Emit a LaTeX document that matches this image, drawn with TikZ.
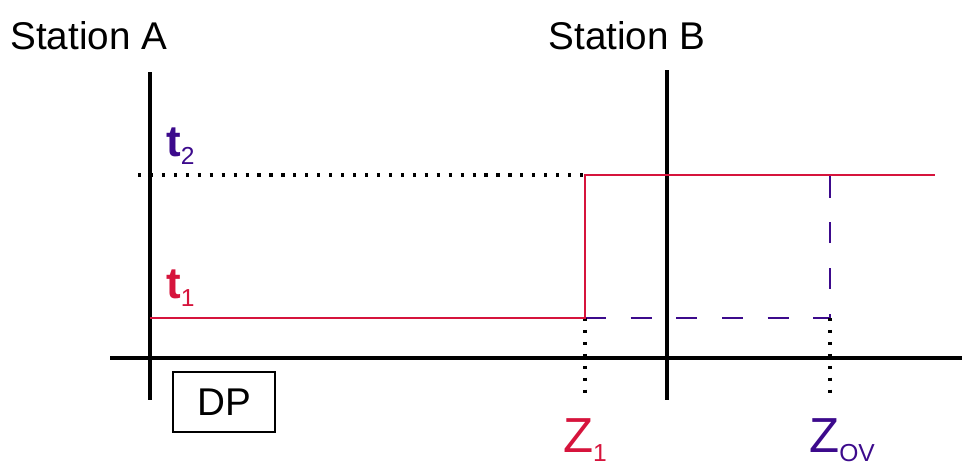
\documentclass[tikz,border=0pt]{standalone}
\usepackage{fontspec}
\setmainfont{Liberation Sans}
\usepackage{xcolor}
\usetikzlibrary{positioning,calc}

\definecolor{zonered}{RGB}{214,20,60}
\definecolor{zoneblue}{RGB}{60,10,140}
\newcommand{\lowidx}[1]{\raisebox{-0.35ex}{\mdseries\fontsize{14}{14}\selectfont #1}}

\begin{document}
\begin{tikzpicture}[
    x=0.02cm, y=-0.02cm,
    label/.style={inner sep=0pt, font=\fontsize{22}{24}\selectfont},
    timelabel/.style={inner sep=0pt, font=\fontsize{25}{26}\selectfont\bfseries},
    zonelabel/.style={inner sep=0pt, font=\fontsize{28}{29}\selectfont},
    axisline/.style={line width=2pt, black},
    stepline/.style={line width=1.6pt, zonered},
    reachline/.style={line width=1.6pt, zoneblue, dash pattern=on 12pt off 14pt},
    guideline/.style={line width=1.8pt, black, dash pattern=on 1.8pt off 5pt}
]
    \useasboundingbox (0,0) rectangle (964,464);

    % stations
    \node[label, anchor=west] (stA) at (10,36) {Station A};
    \node[label] (stB) at (627,36) {Station B};
    \coordinate (aTop) at (150,72);
    \coordinate (aBot) at (150,400);
    \coordinate (bTop) at (667,70);
    \coordinate (bBot) at (667,400);
    \draw[axisline] (aTop) -- (aBot);
    \draw[axisline] (bTop) -- (bBot);

    % distance axis
    \coordinate (axL) at (110,358);
    \coordinate (axR) at (962,358);
    \draw[axisline] (axL) -- (axR);

    % time levels
    \coordinate (t2L) at (138,175);
    \coordinate (t1L) at (150,318);
    \coordinate (z1Lo) at (585,318);
    \coordinate (z1Hi) at (585,175);
    \coordinate (endHi) at (935,175);
    \coordinate (zovLo) at (830,318);
    \coordinate (zovHi) at (830,175);
    \coordinate (z1Foot) at (585,398);
    \coordinate (zovFoot) at (830,398);

    \draw[guideline] (t2L) -- (z1Hi);
    \draw[reachline] (z1Lo) -- (zovLo) -- (zovHi);
    \draw[guideline] (z1Lo) -- (z1Foot);
    \draw[guideline] (zovLo) -- (zovFoot);
    \draw[stepline] (t1L) -- (z1Lo) -- (z1Hi) -- (endHi);

    \node[timelabel, anchor=west, text=zoneblue] (t2) at (166,146) {t\lowidx{2}};
    \node[timelabel, anchor=west, text=zonered] (t1) at (166,288) {t\lowidx{1}};

    % zone reaches
    \node[zonelabel, text=zonered] (z1) at (585,440) {Z\lowidx{1}};
    \node[zonelabel, text=zoneblue] (zov) at (842,440) {Z\lowidx{OV}};

    % relay
    \node[draw, line width=1.3pt, minimum width=102*0.02cm, minimum height=60*0.02cm,
          font=\fontsize{22}{24}\selectfont] (dp) at (224,402) {DP};
\end{tikzpicture}
\end{document}
